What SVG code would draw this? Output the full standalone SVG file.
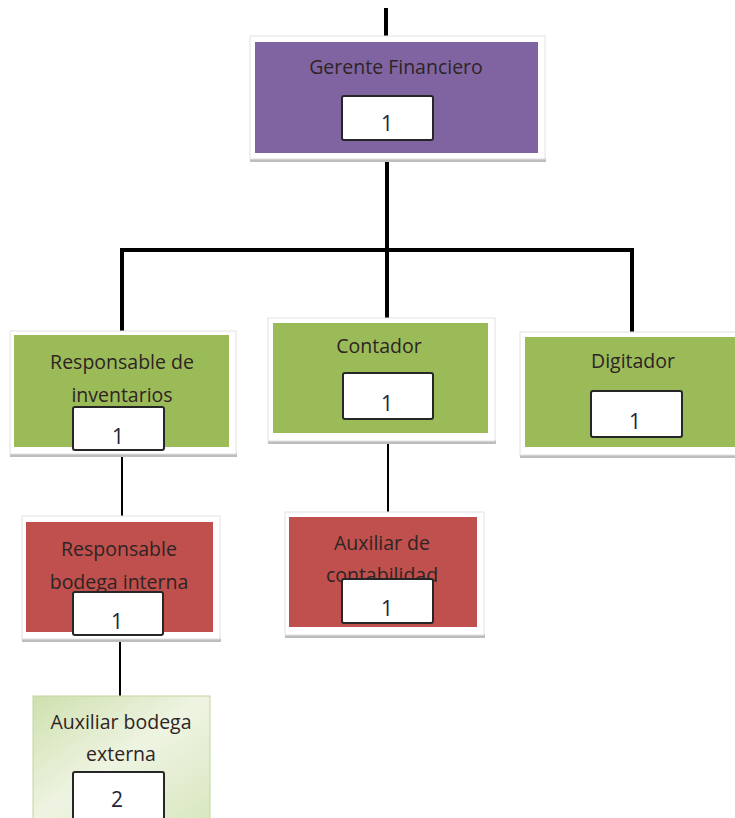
<svg xmlns="http://www.w3.org/2000/svg" width="735" height="818" viewBox="0 0 735 818">
<defs>
<linearGradient id="lg" x1="0" y1="0" x2="1" y2="1">
<stop offset="0" stop-color="#cfe0ae"/>
<stop offset="0.5" stop-color="#eef4e2"/>
<stop offset="1" stop-color="#d9e7c0"/>
</linearGradient>
</defs>
<style>
.frame{fill:#ffffff;stroke:#e2e2e2;stroke-width:1}
.shadow{fill:#bdbdbd}
.purple{fill:#8064a2}
.green{fill:#9bbb59}
.red{fill:#c0504d}
.pale{fill:url(#lg);stroke:#c4d6a0;stroke-width:1}
.num{fill:#ffffff;stroke:#262626;stroke-width:2}
.lbl{font-family:"Open Sans","Liberation Sans",sans-serif;font-size:19.5px;fill:#2e2424;text-anchor:middle}
.n{font-family:"Open Sans","Liberation Sans",sans-serif;font-size:21px;fill:#23233a;text-anchor:middle}
.conn{stroke:#000;fill:none}
</style>
<g id="connectors">
<line class="conn" x1="386" y1="8" x2="386" y2="38" stroke-width="4"/>
<line class="conn" x1="387" y1="160" x2="387" y2="252" stroke-width="4"/>
<polyline class="conn" points="122,332 122,250 632,250 632,332" stroke-width="4"/>
<line class="conn" x1="387" y1="250" x2="387" y2="320" stroke-width="4"/>
<line class="conn" x1="122" y1="455" x2="122" y2="518" stroke-width="2"/>
<line class="conn" x1="388" y1="442" x2="388" y2="514" stroke-width="2"/>
<line class="conn" x1="120" y1="637" x2="120" y2="697" stroke-width="2"/>
</g>
<g id="gerente">
<rect class="shadow" x="250" y="158" width="296" height="4"/>
<rect class="frame" x="250" y="36" width="295" height="123"/>
<rect class="purple" x="255" y="42" width="283" height="111"/>
<text class="lbl" x="396" y="74">Gerente Financiero</text>
<rect class="num" x="342" y="96" width="91" height="44" rx="2"/>
<text class="n" x="387" y="131">1</text>
</g>
<g id="inventarios">
<rect class="shadow" x="10" y="453" width="227" height="4"/>
<rect class="frame" x="10" y="331" width="226" height="123"/>
<rect class="green" x="14" y="335" width="215" height="112"/>
<text class="lbl" x="122" y="369">Responsable de</text>
<text class="lbl" x="122" y="402">inventarios</text>
<rect class="num" x="73" y="407" width="91" height="43" rx="2"/>
<text class="n" x="118" y="444">1</text>
</g>
<g id="contador">
<rect class="shadow" x="268" y="440" width="228" height="4"/>
<rect class="frame" x="268" y="318" width="227" height="123"/>
<rect class="green" x="273" y="323" width="215" height="110"/>
<text class="lbl" x="379" y="353">Contador</text>
<rect class="num" x="343" y="373" width="90" height="46" rx="2"/>
<text class="n" x="387" y="411">1</text>
</g>
<g id="digitador">
<rect class="shadow" x="520" y="454" width="215" height="4"/>
<rect class="frame" x="520" y="332" width="220" height="123"/>
<rect class="green" x="525" y="337" width="215" height="110"/>
<text class="lbl" x="633" y="368">Digitador</text>
<rect class="num" x="591" y="391" width="91" height="46" rx="2"/>
<text class="n" x="635" y="429">1</text>
</g>
<g id="bodega-interna">
<rect class="shadow" x="22" y="638" width="199" height="4"/>
<rect class="frame" x="22" y="516" width="198" height="123"/>
<rect class="red" x="26" y="522" width="187" height="110"/>
<text class="lbl" x="119" y="556">Responsable</text>
<text class="lbl" x="119" y="589">bodega interna</text>
<rect class="num" x="73" y="592" width="90" height="43" rx="2"/>
<text class="n" x="117" y="629">1</text>
</g>
<g id="auxiliar-contabilidad">
<rect class="shadow" x="285" y="634" width="200" height="4"/>
<rect class="frame" x="285" y="512" width="199" height="123"/>
<rect class="red" x="289" y="517" width="188" height="110"/>
<text class="lbl" x="382" y="550">Auxiliar de</text>
<text class="lbl" x="382" y="582">contabilidad</text>
<rect class="num" x="342" y="579" width="91" height="44" rx="2"/>
<text class="n" x="387" y="616">1</text>
</g>
<g id="bodega-externa">
<rect class="pale" x="33" y="696" width="177" height="124"/>
<text class="lbl" x="121" y="729">Auxiliar bodega</text>
<text class="lbl" x="121" y="761">externa</text>
<rect class="num" x="73" y="772" width="91" height="50" rx="2"/>
<text class="n" x="117" y="807">2</text>
</g>
</svg>
